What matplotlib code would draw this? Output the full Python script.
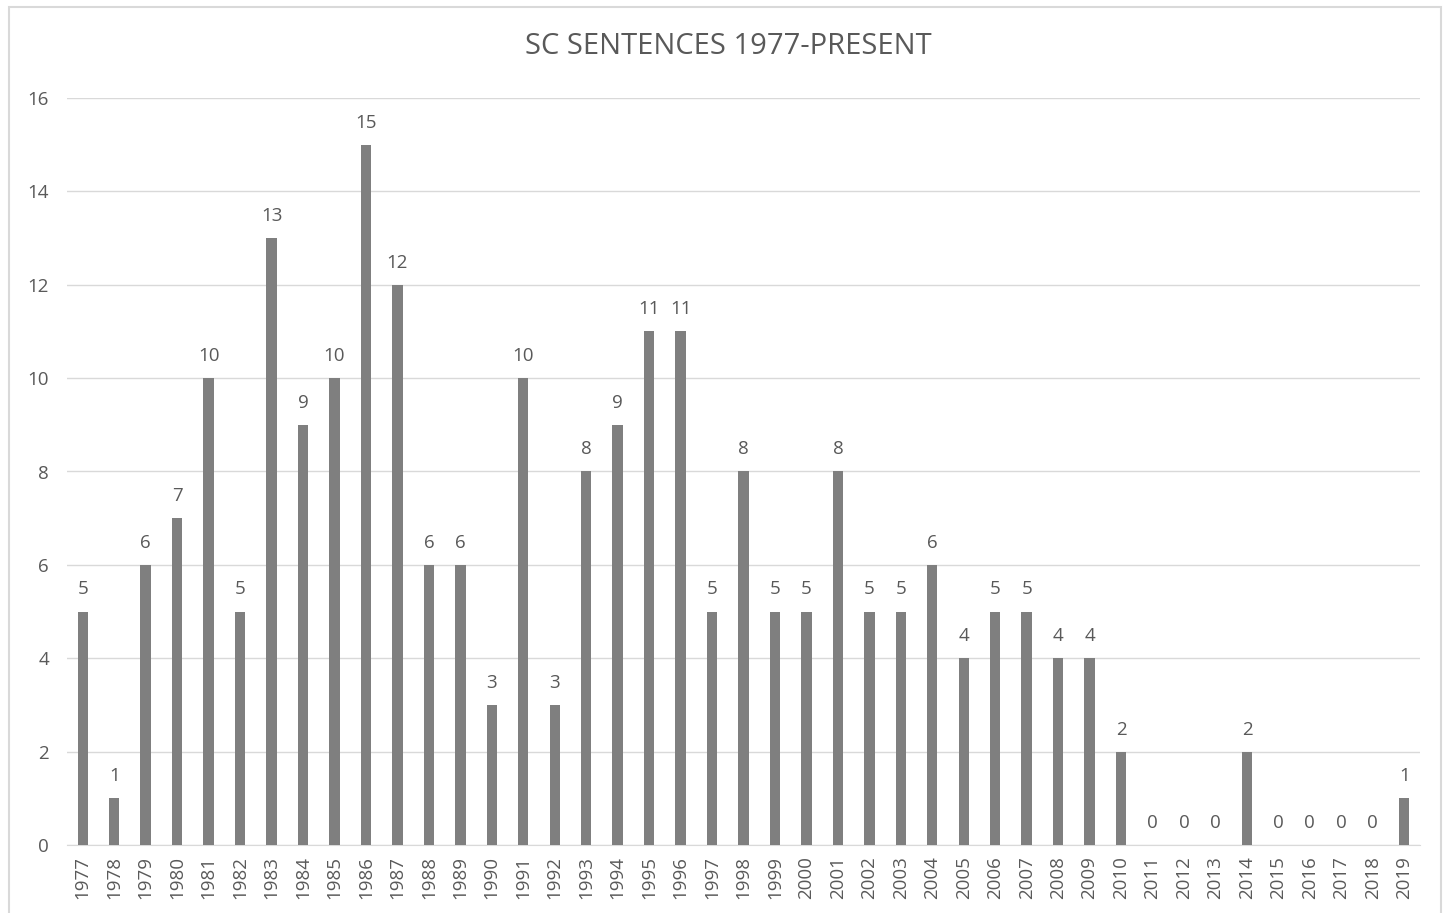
import matplotlib
matplotlib.use("Agg")
import matplotlib.pyplot as plt
import numpy as np
from matplotlib.patches import Rectangle

years = [str(y) for y in range(1977, 2020)]
sentences = [5, 1, 6, 7, 10, 5, 13, 9, 10, 15, 12, 6, 6, 3, 10, 3, 8, 9, 11, 11,
             5, 8, 5, 5, 8, 5, 5, 6, 4, 5, 5, 4, 4, 2, 0, 0, 0, 2, 0, 0, 0, 0, 1]
yticks = [0, 2, 4, 6, 8, 10, 12, 14, 16]

plt.rcParams['font.family'] = ['Open Sans', 'DejaVu Sans']
text_color = "#595959"

fig = plt.figure(figsize=(14.52, 9.13), dpi=100)
fig.patches.append(Rectangle((9 / 1452, -0.01), 1432 / 1452, 1 - 7 / 913 + 0.01,
                             transform=fig.transFigure, fill=False,
                             edgecolor="#d9d9d9", linewidth=1.5))
ax = fig.add_axes([67 / 1452, 1 - 845 / 913, (1420 - 67) / 1452, (845 - 98) / 913])

x = np.arange(len(years))
bars = ax.bar(x, sentences, width=0.33, color="#7f7f7f", zorder=3)
for xi, v in zip(x, sentences):
    ax.text(xi, v + 0.28, str(v), ha="center", va="bottom",
            fontsize=13.5, color=text_color)

ax.set_xlim(-0.5, len(years) - 0.5)
ax.set_ylim(0, 16)
ax.set_yticks(yticks)
ax.set_yticklabels([str(t) for t in yticks], fontsize=13.5, color=text_color)
ax.set_xticks(x)
ax.set_xticklabels(years, rotation=90, fontsize=13.5, color=text_color)
ax.tick_params(axis="both", length=0)
ax.tick_params(axis="y", pad=13)
ax.tick_params(axis="x", pad=8)
ax.grid(axis="y", color="#d9d9d9", linewidth=1, zorder=0)
for s in ["top", "right", "left"]:
    ax.spines[s].set_visible(False)
ax.spines["bottom"].set_color("#d9d9d9")

fig.text(728 / 1452, 1 - 47 / 913, "SC SENTENCES 1977-PRESENT", ha="center",
         va="center", fontsize=21, color=text_color)

fig.savefig("out.png", dpi=100)
